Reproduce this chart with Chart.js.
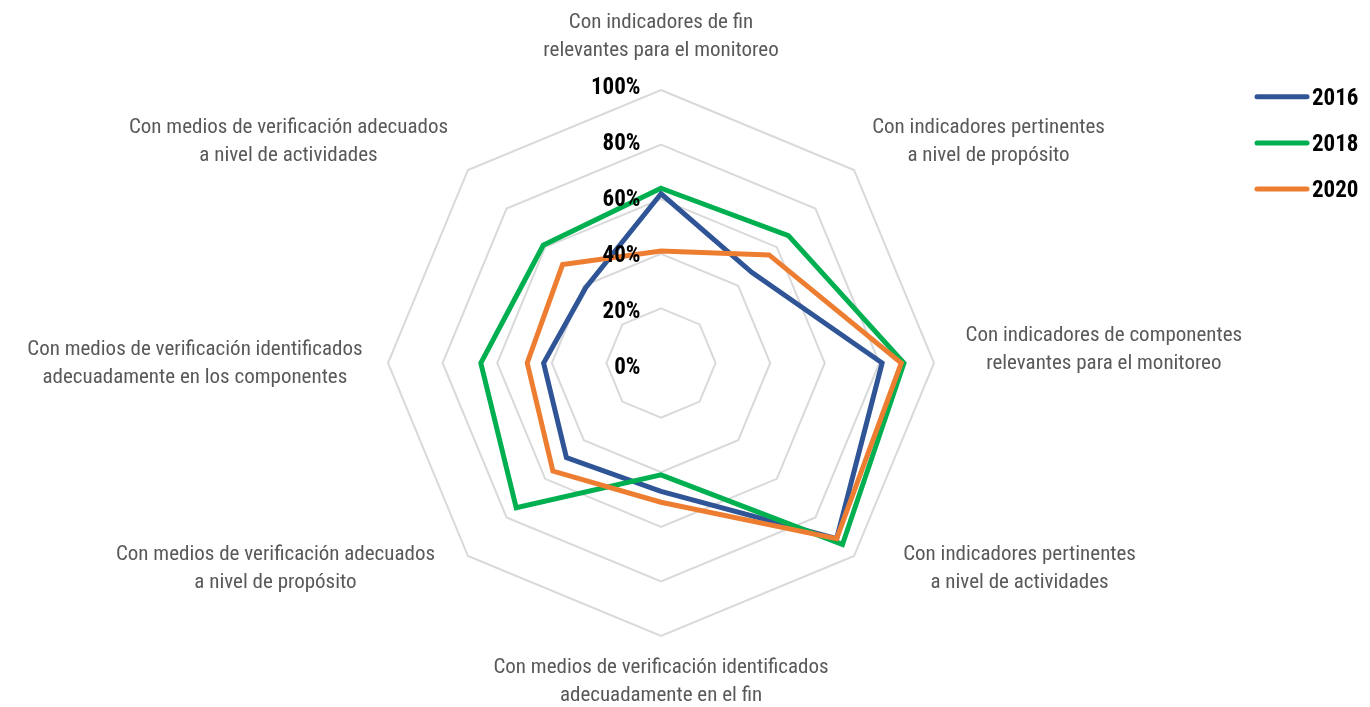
<!DOCTYPE html>
<html><head><meta charset="utf-8">
<script src="https://cdn.jsdelivr.net/npm/chart.js@4.4.1/dist/chart.umd.min.js"></script>
<style>html,body{margin:0;padding:0;background:#fff;}canvas{display:block;}</style>
</head><body>
<canvas id="c" width="1370" height="707"></canvas>
<script>
// ---- data ----
const categories = [
  ['Con indicadores de fin', 'relevantes para el monitoreo'],
  ['Con indicadores pertinentes', 'a nivel de propósito'],
  ['Con indicadores de componentes', 'relevantes para el monitoreo'],
  ['Con indicadores pertinentes', 'a nivel de actividades'],
  ['Con medios de verificación identificados', 'adecuadamente en el fin'],
  ['Con medios de verificación adecuados', 'a nivel de propósito'],
  ['Con medios de verificación identificados', 'adecuadamente en los componentes'],
  ['Con medios de verificación adecuados', 'a nivel de actividades']
];
const seriesNames = ['2016', '2018', '2020'];
const values2016 = [62, 47, 81, 91, 47, 49, 43, 39];
const values2018 = [64, 66, 89, 94, 41, 75, 66, 61];
const values2020 = [41, 56, 88, 91, 51, 56, 49, 51];
const tickValues = [0, 20, 40, 60, 80, 100];
const tickLabels = ['0%', '20%', '40%', '60%', '80%', '100%'];

// ---- styles ----
const COLORS = ['#2F5597', '#00B050', '#ED7D31'];
const LABEL_FONT = '21px "Roboto Condensed", "Roboto", sans-serif';
const BOLD_FONT = 'bold 23px "Roboto Condensed", "Roboto", sans-serif';
const LEGEND_FONT = 'bold 23px "Roboto Condensed", "Roboto", sans-serif';

// label placement relative to outer vertex: align, dx, dy (dy = first line centre)
const placement = [
  ['center', 0, -67.4], ['center', 134.5, -42.4], ['left', 31.5, -27.4], ['center', 165.5, -1.4],
  ['center', 0, 31.6], ['center', -192.5, -1.4], ['right', -25.5, -13.4], ['center', -179.5, -42.4]
];

const overlay = {
  id: 'overlay',
  afterDatasetsDraw(chart) {
    const ctx = chart.ctx;
    const r = chart.scales.r;
    ctx.save();
    // tick labels
    ctx.font = BOLD_FONT;
    ctx.fillStyle = '#000';
    ctx.textAlign = 'right';
    ctx.textBaseline = 'middle';
    tickValues.forEach((v, i) => {
      const d = r.getDistanceFromCenterForValue(v);
      ctx.fillText(tickLabels[i], r.xCenter - 20.5, r.yCenter + 5.5 - d * 1.028);
    });
    // point labels
    ctx.font = LABEL_FONT;
    ctx.fillStyle = '#595959';
    categories.forEach((lines, i) => {
      const p = r.getPointPosition(i, r.drawingArea);
      const [al, dx, dy] = placement[i];
      const w = Math.max(...lines.map(t => ctx.measureText(t).width));
      let cx;
      if (al === 'center') cx = p.x + dx;
      else if (al === 'left') cx = p.x + dx + w / 2;
      else cx = p.x + dx - w / 2;
      ctx.textAlign = 'center';
      lines.forEach((t, k) => ctx.fillText(t, cx, p.y + dy + k * 28));
    });
    // legend
    chart.data.datasets.forEach((ds, i) => {
      const y = 96.7 + i * 46.2;
      ctx.strokeStyle = ds.borderColor;
      ctx.lineWidth = 5;
      ctx.lineCap = 'round';
      ctx.beginPath(); ctx.moveTo(1257, y); ctx.lineTo(1307, y); ctx.stroke();
      ctx.font = LEGEND_FONT;
      ctx.fillStyle = '#000';
      ctx.textAlign = 'left';
      ctx.fillText(ds.label, 1312, y + 2.5);
    });
    ctx.restore();
  }
};

const datasets = [values2016, values2018, values2020].map((vals, i) => ({
  label: seriesNames[i],
  data: vals,
  borderColor: COLORS[i],
  backgroundColor: COLORS[i],
  borderWidth: 5,
  borderJoinStyle: 'miter',
  pointRadius: 0,
  pointHoverRadius: 0,
  fill: false,
  order: 3 - i
}));

new Chart(document.getElementById('c'), {
  type: 'radar',
  data: { labels: categories, datasets },
  options: {
    responsive: false,
    animation: false,
    layout: { padding: { top: 90, bottom: 71, left: 388, right: 436 } },
    plugins: { legend: { display: false }, tooltip: { enabled: false } },
    scales: {
      r: {
        min: 0, max: 100,
        ticks: { stepSize: 20, display: false },
        grid: { color: '#D9D9D9', lineWidth: 2 },
        angleLines: { display: false },
        pointLabels: { display: false }
      }
    }
  },
  plugins: [overlay]
});
</script>
</body></html>
